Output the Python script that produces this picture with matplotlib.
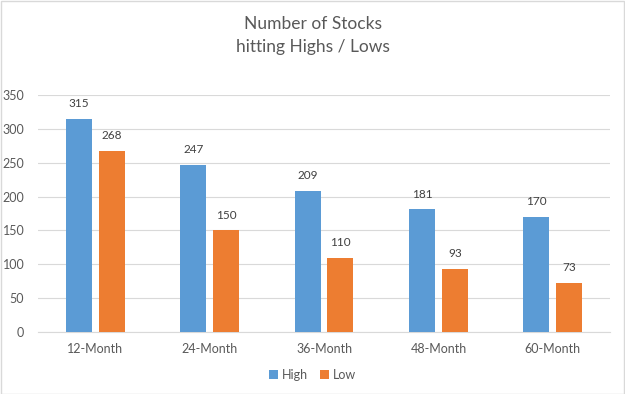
import matplotlib
matplotlib.use("Agg")
import matplotlib.pyplot as plt
import numpy as np

categories = ["12-Month", "24-Month", "36-Month", "48-Month", "60-Month"]
high = [315, 247, 209, 181, 170]
low = [268, 150, 110, 93, 73]

blue = "#5B9BD5"
orange = "#ED7D31"
txt = "#595959"

plt.rcParams['font.family'] = ['Lato', 'DejaVu Sans']

fig = plt.figure(figsize=(6.25, 3.94), dpi=100)
ax = fig.add_axes([0.061, 0.157, 0.915, 0.602])

x = np.arange(len(categories))
w = 0.227
gap = 0.06
b1 = ax.bar(x - (w + gap) / 2, high, w, color=blue, label="High", zorder=3)
b2 = ax.bar(x + (w + gap) / 2, low, w, color=orange, label="Low", zorder=3)

for bars in (b1, b2):
    for r in bars:
        ax.annotate(str(int(r.get_height())), (r.get_x() + r.get_width() / 2, r.get_height()),
                    xytext=(0, 7), textcoords="offset points", ha="center", va="bottom",
                    fontsize=8.5, color="#404040")

ax.set_xlim(-0.5, len(categories) - 0.5)
ax.set_ylim(0, 350)
ax.set_yticks(range(0, 351, 50))
ax.set_xticks(x)
ax.set_xticklabels(categories)
ax.yaxis.grid(True, color="#D9D9D9", linewidth=0.8, zorder=0)
for s in ["top", "right", "left"]:
    ax.spines[s].set_visible(False)
ax.spines["bottom"].set_color("#D9D9D9")
ax.tick_params(axis="both", length=0, labelsize=9, colors=txt)
ax.tick_params(axis="x", pad=8)
ax.tick_params(axis="y", pad=10)

fig.text(0.5, 0.94, "Number of Stocks", ha="center", va="center", fontsize=12.5, color=txt)
fig.text(0.5, 0.88, "hitting Highs / Lows", ha="center", va="center", fontsize=12.5, color=txt)

fig.legend(handles=[b1, b2], loc="center", bbox_to_anchor=(0.5, 0.048), ncol=2, frameon=False,
           fontsize=9, handlelength=0.7, handleheight=0.7, handletextpad=0.3, columnspacing=1.0,
           labelcolor=txt)

fig.patches.append(plt.Rectangle((0.001, 0.001), 0.997, 0.997, transform=fig.transFigure,
                                 fill=False, edgecolor="#D9D9D9", linewidth=1))

fig.savefig("out.png", dpi=100)
